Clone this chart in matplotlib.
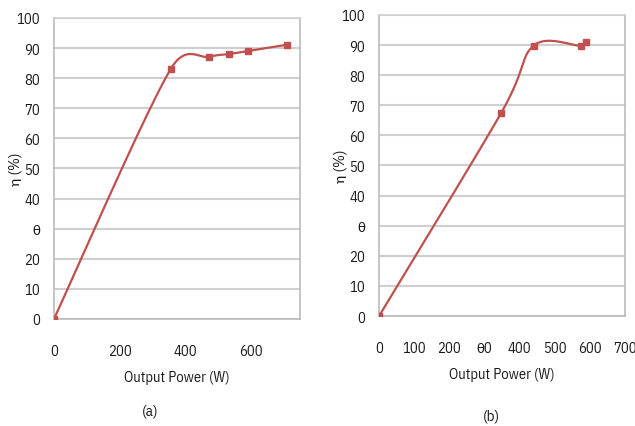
import matplotlib
matplotlib.use("Agg")
import matplotlib.pyplot as plt
from matplotlib import font_manager
import numpy as np

# panel (a)
power_a = [0, 356, 474, 534, 591, 710]
eff_a = [0, 83.0, 87.1, 88.0, 89.0, 91.1]
xticks_a = [0, 200, 400, 600]
xlabels_a = ["0", "200", "400", "600"]

# panel (b)
power_b = [0, 347, 440, 574, 590]
eff_b = [0, 67.3, 89.8, 89.8, 90.9]
xticks_b = [0, 100, 200, 300, 400, 500, 600, 700]
xlabels_b = ["0", "100", "200", "θ0", "400", "500", "600", "700"]

yticks = [0, 10, 20, 30, 40, 50, 60, 70, 80, 90, 100]
ylabels = ["0", "10", "20", "θ", "40", "50", "60", "70", "80", "90", "100"]

RED = "#C0504D"
GRID = "#CFCFCF"

names = {f.name for f in font_manager.fontManager.ttflist}
FONT = [f for f in ["IBM Plex Sans Condensed", "Carlito",
                    "Liberation Sans"] if f in names] + ["DejaVu Sans"]
plt.rcParams["font.family"] = FONT


def smooth(x, y, sx, sy, clamp=0.75, n=40):
    """Excel-like smoothed line: cubic Bezier through the points."""
    px = np.asarray(x, float) * sx
    py = np.asarray(y, float) * sy
    P = np.column_stack([px, py])
    m = len(P)
    out = []
    for i in range(m - 1):
        p0 = P[max(i - 1, 0)]
        p1 = P[i]
        p2 = P[i + 1]
        p3 = P[min(i + 2, m - 1)]
        seg = np.linalg.norm(p2 - p1)
        t1 = (p2 - p0) / 6.0
        t2 = (p3 - p1) / 6.0
        for t in (t1, t2):
            L = np.linalg.norm(t)
            if L > clamp * seg:
                t *= clamp * seg / L
        c1 = p1 + t1
        c2 = p2 - t2
        tt = np.linspace(0, 1, n)[:, None]
        b = ((1 - tt) ** 3 * p1 + 3 * (1 - tt) ** 2 * tt * c1
             + 3 * (1 - tt) * tt ** 2 * c2 + tt ** 3 * p2)
        out.append(b if i == 0 else b[1:])
    out = np.vstack(out)
    return out[:, 0] / sx, out[:, 1] / sy


def panel(ax, xs, ys, xmax, xticks, xlabels):
    w = ax.get_position().width * fig.get_figwidth() * fig.dpi
    h = ax.get_position().height * fig.get_figheight() * fig.dpi
    cx, cy = smooth(xs, ys, w / xmax, h / 100.0)
    ax.plot(cx, cy, color=RED, lw=1.6, zorder=3)
    ax.plot(xs, ys, ls="none", marker="s", ms=5, color=RED, zorder=4)
    ax.set_xlim(0, xmax)
    ax.set_ylim(0, 100)
    ax.set_yticks(yticks)
    ax.set_yticklabels(ylabels, fontsize=10.5)
    ax.set_xticks(xticks)
    ax.set_xticklabels(xlabels, fontsize=10.5)
    ax.tick_params(axis="both", length=0, colors="#1a1a1a")
    ax.tick_params(axis="y", pad=10)
    ax.tick_params(axis="x", pad=18)
    ax.grid(axis="y", color=GRID, lw=1.5)
    ax.set_axisbelow(True)
    for s in ax.spines.values():
        s.set_color("#BBBBBB")
        s.set_linewidth(1.2)
    ax.spines["top"].set_color(GRID)
    ax.set_ylabel("η (%)", fontsize=11, color="#1a1a1a")
    ax.yaxis.set_label_coords(-0.13, 0.5)
    ax.set_xlabel("Output Power (W)", fontsize=10.5, color="#1a1a1a")
    ax.xaxis.set_label_coords(0.5, -0.17)


fig = plt.figure(figsize=(6.35, 4.27), dpi=100)
ax1 = fig.add_axes([0.085, 0.2506, 0.387, 0.705])
ax2 = fig.add_axes([0.597, 0.2576, 0.387, 0.705])

panel(ax1, power_a, eff_a, 750, xticks_a, xlabels_a)
panel(ax2, power_b, eff_b, 700, xticks_b, xlabels_b)

fig.text(150 / 635, 1 - 412 / 427, "(a)", ha="center", va="center",
         fontsize=11, color="#1a1a1a")
fig.text(491 / 635, 1 - 417 / 427, "(b)", ha="center", va="center",
         fontsize=11, color="#1a1a1a")

fig.savefig("out.png", dpi=100)
